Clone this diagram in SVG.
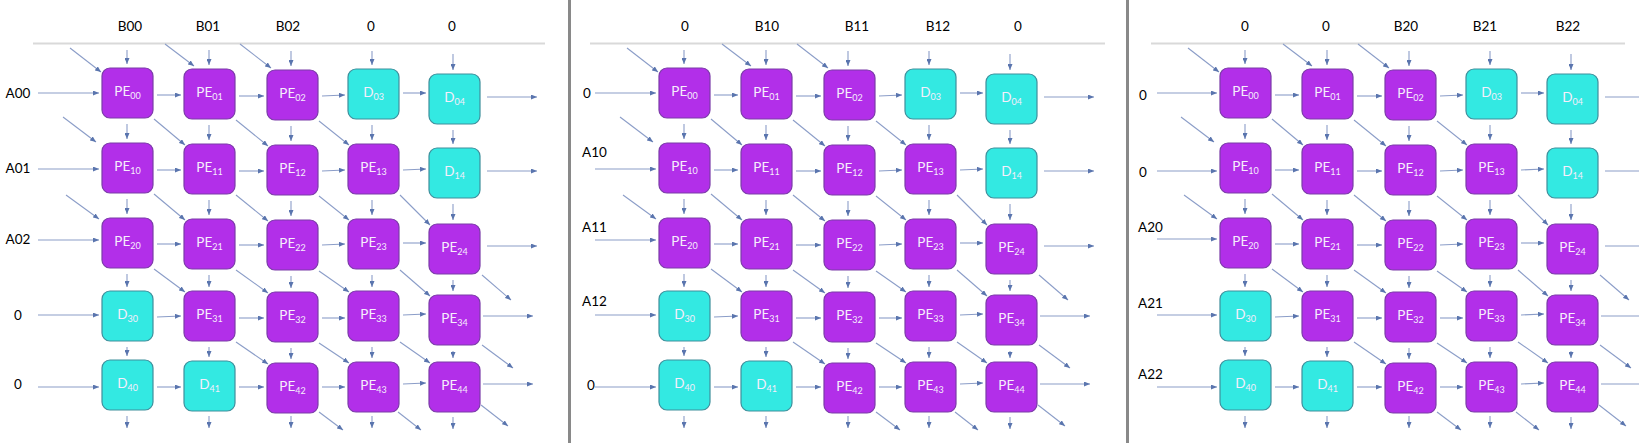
<svg xmlns="http://www.w3.org/2000/svg" width="1639" height="443" viewBox="0 0 1639 443">
<style>
.pe rect{fill:#b22fe9;stroke:#7b3ca8;stroke-width:1.2}
.d rect{fill:#33e9e2;stroke:#3f8f9c;stroke-width:1.2}
.pe text,.d text{font-family:Lato,"Open Sans",sans-serif;font-size:13.5px;fill:#f6eefc;text-anchor:middle}
.s{font-size:9px}
.lbl{font-family:Lato,"Liberation Sans",sans-serif;font-size:13.5px;fill:#000}
.m{text-anchor:middle}
.c line{stroke:#8b9dc8;stroke-width:1.1;marker-end:url(#ah)}
.rule{stroke:#d9d9d9;stroke-width:2}
</style>
<defs>
<marker id="ah" markerWidth="6" markerHeight="5" refX="6" refY="2.5" orient="auto" markerUnits="userSpaceOnUse"><path d="M0,0 L6,2.5 L0,5 z" fill="#5a75ae"/></marker>
</defs>
<rect width="1639" height="443" fill="#fff"/>
<rect x="568" y="0" width="3" height="443" fill="#898989"/>
<rect x="1126" y="0" width="3" height="443" fill="#898989"/>
<line class="rule" x1="33" y1="43.5" x2="545" y2="43.5"/>
<line class="rule" x1="590" y1="43.5" x2="1105" y2="43.5"/>
<line class="rule" x1="1151" y1="43.5" x2="1625" y2="43.5"/>
<g id="labels">
<text class="lbl m" x="130" y="31">B00</text>
<text class="lbl m" x="208" y="31">B01</text>
<text class="lbl m" x="288" y="31">B02</text>
<text class="lbl m" x="371" y="31">0</text>
<text class="lbl m" x="452" y="31">0</text>
<text class="lbl m" x="18" y="97.5">A00</text>
<text class="lbl m" x="18" y="172.5">A01</text>
<text class="lbl m" x="18" y="243.5">A02</text>
<text class="lbl m" x="18" y="319.5">0</text>
<text class="lbl m" x="18" y="388.5">0</text>
<text class="lbl m" x="685" y="31">0</text>
<text class="lbl m" x="767" y="31">B10</text>
<text class="lbl m" x="857" y="31">B11</text>
<text class="lbl m" x="938" y="31">B12</text>
<text class="lbl m" x="1018" y="31">0</text>
<text class="lbl m" x="587" y="97.5">0</text>
<text class="lbl" x="582" y="156.5">A10</text>
<text class="lbl" x="582" y="231.5">A11</text>
<text class="lbl" x="582" y="305.5">A12</text>
<text class="lbl m" x="591" y="389.5">0</text>
<text class="lbl m" x="1245" y="31">0</text>
<text class="lbl m" x="1326" y="31">0</text>
<text class="lbl m" x="1406" y="31">B20</text>
<text class="lbl m" x="1485" y="31">B21</text>
<text class="lbl m" x="1568" y="31">B22</text>
<text class="lbl m" x="1143" y="100">0</text>
<text class="lbl m" x="1143" y="177">0</text>
<text class="lbl" x="1138" y="232">A20</text>
<text class="lbl" x="1138" y="308">A21</text>
<text class="lbl" x="1138" y="379">A22</text>
</g>

<g id="panel1">
<g id="p1-connectors" class="c">
<line x1="127" y1="50" x2="127" y2="64"/><line x1="209" y1="50" x2="209" y2="65"/><line x1="291" y1="51" x2="291" y2="66"/><line x1="372" y1="51" x2="372" y2="65"/><line x1="453" y1="54" x2="453" y2="70"/>
<line x1="127" y1="124" x2="127" y2="139"/><line x1="127" y1="199" x2="127" y2="214"/><line x1="127" y1="274" x2="127" y2="287"/><line x1="127" y1="347" x2="127" y2="356"/>
<line x1="209" y1="125" x2="209" y2="140"/><line x1="209" y1="200" x2="209" y2="215"/><line x1="209" y1="275" x2="209" y2="287"/><line x1="209" y1="347" x2="209" y2="357"/>
<line x1="291" y1="126" x2="291" y2="141"/><line x1="291" y1="201" x2="291" y2="216"/><line x1="291" y1="276" x2="291" y2="288"/><line x1="291" y1="348" x2="291" y2="359"/>
<line x1="372" y1="125" x2="372" y2="140"/><line x1="372" y1="200" x2="372" y2="215"/><line x1="372" y1="275" x2="372" y2="287"/><line x1="372" y1="347" x2="372" y2="358"/>
<line x1="453" y1="130" x2="453" y2="144"/><line x1="453" y1="204" x2="453" y2="220"/><line x1="453" y1="280" x2="453" y2="291"/><line x1="453" y1="351" x2="453" y2="358"/>
<line x1="127" y1="416" x2="127" y2="428"/><line x1="209" y1="416" x2="209" y2="428"/><line x1="291" y1="416" x2="291" y2="428"/><line x1="372" y1="416" x2="372" y2="428"/><line x1="453" y1="417" x2="453" y2="429"/>
<line x1="38" y1="93" x2="99" y2="93"/><line x1="38" y1="169" x2="99" y2="169"/><line x1="38" y1="240" x2="99" y2="240"/><line x1="38" y1="315" x2="99" y2="315"/><line x1="38" y1="387" x2="99" y2="387"/>
<line x1="157" y1="95" x2="181" y2="95"/><line x1="239" y1="96" x2="264" y2="96"/><line x1="322" y1="96" x2="345" y2="95"/><line x1="403" y1="93" x2="426" y2="93"/>
<line x1="157" y1="170" x2="181" y2="170"/><line x1="239" y1="171" x2="264" y2="171"/><line x1="322" y1="171" x2="345" y2="170"/><line x1="403" y1="170" x2="426" y2="169"/>
<line x1="157" y1="244" x2="181" y2="244"/><line x1="239" y1="245" x2="264" y2="245"/><line x1="322" y1="245" x2="345" y2="244"/><line x1="403" y1="243" x2="426" y2="243"/>
<line x1="157" y1="317" x2="181" y2="316"/><line x1="239" y1="318" x2="264" y2="318"/><line x1="322" y1="318" x2="345" y2="318"/><line x1="403" y1="315" x2="426" y2="314"/>
<line x1="157" y1="387" x2="181" y2="387"/><line x1="239" y1="387" x2="264" y2="387"/><line x1="322" y1="387" x2="345" y2="387"/><line x1="403" y1="384" x2="426" y2="383"/>
<line x1="487" y1="97" x2="537" y2="97"/><line x1="487" y1="171" x2="537" y2="171"/><line x1="487" y1="246" x2="537" y2="246"/><line x1="483" y1="316" x2="533" y2="316"/><line x1="483" y1="384" x2="533" y2="384"/>
<line x1="70" y1="48" x2="101" y2="72"/><line x1="165" y1="44" x2="194" y2="66"/><line x1="240" y1="44" x2="271" y2="68"/><line x1="63" y1="117" x2="96" y2="142"/><line x1="66" y1="195" x2="99" y2="219"/>
<line x1="154" y1="119" x2="185" y2="145"/><line x1="236" y1="120" x2="268" y2="146"/><line x1="319" y1="121" x2="349" y2="145"/>
<line x1="154" y1="194" x2="185" y2="220"/><line x1="236" y1="195" x2="268" y2="221"/><line x1="319" y1="196" x2="349" y2="220"/><line x1="400" y1="195" x2="430" y2="225"/>
<line x1="154" y1="269" x2="185" y2="292"/><line x1="236" y1="270" x2="268" y2="293"/><line x1="319" y1="271" x2="349" y2="292"/><line x1="400" y1="270" x2="430" y2="296"/>
<line x1="236" y1="342" x2="268" y2="364"/><line x1="319" y1="343" x2="349" y2="363"/><line x1="400" y1="342" x2="430" y2="363"/>
<line x1="482" y1="275" x2="511" y2="300"/><line x1="482" y1="345" x2="513" y2="368"/><line x1="319" y1="412" x2="343" y2="430"/><line x1="398" y1="412" x2="421" y2="430"/><line x1="481" y1="405" x2="508" y2="426"/>
</g>
<g id="p1-nodes">
<g id="p1-PE00" class="pe"><rect x="102" y="68" width="51" height="50" rx="8"/><text x="127.5" y="96">PE<tspan class="s" dy="2.5">00</tspan></text></g>
<g id="p1-PE01" class="pe"><rect x="184" y="69" width="51" height="50" rx="8"/><text x="209.5" y="97">PE<tspan class="s" dy="2.5">01</tspan></text></g>
<g id="p1-PE02" class="pe"><rect x="267" y="70" width="51" height="50" rx="8"/><text x="292.5" y="98">PE<tspan class="s" dy="2.5">02</tspan></text></g>
<g id="p1-D03" class="d"><rect x="348" y="69" width="51" height="50" rx="8"/><text x="373.5" y="97">D<tspan class="s" dy="2.5">03</tspan></text></g>
<g id="p1-D04" class="d"><rect x="429" y="74" width="51" height="50" rx="8"/><text x="454.5" y="102">D<tspan class="s" dy="2.5">04</tspan></text></g>
<g id="p1-PE10" class="pe"><rect x="102" y="143" width="51" height="50" rx="8"/><text x="127.5" y="171">PE<tspan class="s" dy="2.5">10</tspan></text></g>
<g id="p1-PE11" class="pe"><rect x="184" y="144" width="51" height="50" rx="8"/><text x="209.5" y="172">PE<tspan class="s" dy="2.5">11</tspan></text></g>
<g id="p1-PE12" class="pe"><rect x="267" y="145" width="51" height="50" rx="8"/><text x="292.5" y="173">PE<tspan class="s" dy="2.5">12</tspan></text></g>
<g id="p1-PE13" class="pe"><rect x="348" y="144" width="51" height="50" rx="8"/><text x="373.5" y="172">PE<tspan class="s" dy="2.5">13</tspan></text></g>
<g id="p1-D14" class="d"><rect x="429" y="148" width="51" height="50" rx="8"/><text x="454.5" y="176">D<tspan class="s" dy="2.5">14</tspan></text></g>
<g id="p1-PE20" class="pe"><rect x="102" y="218" width="51" height="50" rx="8"/><text x="127.5" y="246">PE<tspan class="s" dy="2.5">20</tspan></text></g>
<g id="p1-PE21" class="pe"><rect x="184" y="219" width="51" height="50" rx="8"/><text x="209.5" y="247">PE<tspan class="s" dy="2.5">21</tspan></text></g>
<g id="p1-PE22" class="pe"><rect x="267" y="220" width="51" height="50" rx="8"/><text x="292.5" y="248">PE<tspan class="s" dy="2.5">22</tspan></text></g>
<g id="p1-PE23" class="pe"><rect x="348" y="219" width="51" height="50" rx="8"/><text x="373.5" y="247">PE<tspan class="s" dy="2.5">23</tspan></text></g>
<g id="p1-PE24" class="pe"><rect x="429" y="224" width="51" height="50" rx="8"/><text x="454.5" y="252">PE<tspan class="s" dy="2.5">24</tspan></text></g>
<g id="p1-D30" class="d"><rect x="102" y="291" width="51" height="50" rx="8"/><text x="127.5" y="319">D<tspan class="s" dy="2.5">30</tspan></text></g>
<g id="p1-PE31" class="pe"><rect x="184" y="291" width="51" height="50" rx="8"/><text x="209.5" y="319">PE<tspan class="s" dy="2.5">31</tspan></text></g>
<g id="p1-PE32" class="pe"><rect x="267" y="292" width="51" height="50" rx="8"/><text x="292.5" y="320">PE<tspan class="s" dy="2.5">32</tspan></text></g>
<g id="p1-PE33" class="pe"><rect x="348" y="291" width="51" height="50" rx="8"/><text x="373.5" y="319">PE<tspan class="s" dy="2.5">33</tspan></text></g>
<g id="p1-PE34" class="pe"><rect x="429" y="295" width="51" height="50" rx="8"/><text x="454.5" y="323">PE<tspan class="s" dy="2.5">34</tspan></text></g>
<g id="p1-D40" class="d"><rect x="102" y="360" width="51" height="50" rx="8"/><text x="127.5" y="388">D<tspan class="s" dy="2.5">40</tspan></text></g>
<g id="p1-D41" class="d"><rect x="184" y="361" width="51" height="50" rx="8"/><text x="209.5" y="389">D<tspan class="s" dy="2.5">41</tspan></text></g>
<g id="p1-PE42" class="pe"><rect x="267" y="363" width="51" height="50" rx="8"/><text x="292.5" y="391">PE<tspan class="s" dy="2.5">42</tspan></text></g>
<g id="p1-PE43" class="pe"><rect x="348" y="362" width="51" height="50" rx="8"/><text x="373.5" y="390">PE<tspan class="s" dy="2.5">43</tspan></text></g>
<g id="p1-PE44" class="pe"><rect x="429" y="362" width="51" height="50" rx="8"/><text x="454.5" y="390">PE<tspan class="s" dy="2.5">44</tspan></text></g>
</g>
</g>

<g id="panel2" transform="translate(557,0)">
<g id="p2-connectors" class="c">
<line x1="127" y1="50" x2="127" y2="64"/><line x1="209" y1="50" x2="209" y2="65"/><line x1="291" y1="51" x2="291" y2="66"/><line x1="372" y1="51" x2="372" y2="65"/><line x1="453" y1="54" x2="453" y2="70"/>
<line x1="127" y1="124" x2="127" y2="139"/><line x1="127" y1="199" x2="127" y2="214"/><line x1="127" y1="274" x2="127" y2="287"/><line x1="127" y1="347" x2="127" y2="356"/>
<line x1="209" y1="125" x2="209" y2="140"/><line x1="209" y1="200" x2="209" y2="215"/><line x1="209" y1="275" x2="209" y2="287"/><line x1="209" y1="347" x2="209" y2="357"/>
<line x1="291" y1="126" x2="291" y2="141"/><line x1="291" y1="201" x2="291" y2="216"/><line x1="291" y1="276" x2="291" y2="288"/><line x1="291" y1="348" x2="291" y2="359"/>
<line x1="372" y1="125" x2="372" y2="140"/><line x1="372" y1="200" x2="372" y2="215"/><line x1="372" y1="275" x2="372" y2="287"/><line x1="372" y1="347" x2="372" y2="358"/>
<line x1="453" y1="130" x2="453" y2="144"/><line x1="453" y1="204" x2="453" y2="220"/><line x1="453" y1="280" x2="453" y2="291"/><line x1="453" y1="351" x2="453" y2="358"/>
<line x1="127" y1="416" x2="127" y2="428"/><line x1="209" y1="416" x2="209" y2="428"/><line x1="291" y1="416" x2="291" y2="428"/><line x1="372" y1="416" x2="372" y2="428"/><line x1="453" y1="417" x2="453" y2="429"/>
<line x1="38" y1="93" x2="99" y2="93"/><line x1="38" y1="169" x2="99" y2="169"/><line x1="38" y1="240" x2="99" y2="240"/><line x1="38" y1="315" x2="99" y2="315"/><line x1="38" y1="387" x2="99" y2="387"/>
<line x1="157" y1="95" x2="181" y2="95"/><line x1="239" y1="96" x2="264" y2="96"/><line x1="322" y1="96" x2="345" y2="95"/><line x1="403" y1="93" x2="426" y2="93"/>
<line x1="157" y1="170" x2="181" y2="170"/><line x1="239" y1="171" x2="264" y2="171"/><line x1="322" y1="171" x2="345" y2="170"/><line x1="403" y1="170" x2="426" y2="169"/>
<line x1="157" y1="244" x2="181" y2="244"/><line x1="239" y1="245" x2="264" y2="245"/><line x1="322" y1="245" x2="345" y2="244"/><line x1="403" y1="243" x2="426" y2="243"/>
<line x1="157" y1="317" x2="181" y2="316"/><line x1="239" y1="318" x2="264" y2="318"/><line x1="322" y1="318" x2="345" y2="318"/><line x1="403" y1="315" x2="426" y2="314"/>
<line x1="157" y1="387" x2="181" y2="387"/><line x1="239" y1="387" x2="264" y2="387"/><line x1="322" y1="387" x2="345" y2="387"/><line x1="403" y1="384" x2="426" y2="383"/>
<line x1="487" y1="97" x2="537" y2="97"/><line x1="487" y1="171" x2="537" y2="171"/><line x1="487" y1="246" x2="537" y2="246"/><line x1="483" y1="316" x2="533" y2="316"/><line x1="483" y1="384" x2="533" y2="384"/>
<line x1="70" y1="48" x2="101" y2="72"/><line x1="165" y1="44" x2="194" y2="66"/><line x1="240" y1="44" x2="271" y2="68"/><line x1="63" y1="117" x2="96" y2="142"/><line x1="66" y1="195" x2="99" y2="219"/>
<line x1="154" y1="119" x2="185" y2="145"/><line x1="236" y1="120" x2="268" y2="146"/><line x1="319" y1="121" x2="349" y2="145"/>
<line x1="154" y1="194" x2="185" y2="220"/><line x1="236" y1="195" x2="268" y2="221"/><line x1="319" y1="196" x2="349" y2="220"/><line x1="400" y1="195" x2="430" y2="225"/>
<line x1="154" y1="269" x2="185" y2="292"/><line x1="236" y1="270" x2="268" y2="293"/><line x1="319" y1="271" x2="349" y2="292"/><line x1="400" y1="270" x2="430" y2="296"/>
<line x1="236" y1="342" x2="268" y2="364"/><line x1="319" y1="343" x2="349" y2="363"/><line x1="400" y1="342" x2="430" y2="363"/>
<line x1="482" y1="275" x2="511" y2="300"/><line x1="482" y1="345" x2="513" y2="368"/><line x1="319" y1="412" x2="343" y2="430"/><line x1="398" y1="412" x2="421" y2="430"/><line x1="481" y1="405" x2="508" y2="426"/>
</g>
<g id="p2-nodes">
<g id="p2-PE00" class="pe"><rect x="102" y="68" width="51" height="50" rx="8"/><text x="127.5" y="96">PE<tspan class="s" dy="2.5">00</tspan></text></g>
<g id="p2-PE01" class="pe"><rect x="184" y="69" width="51" height="50" rx="8"/><text x="209.5" y="97">PE<tspan class="s" dy="2.5">01</tspan></text></g>
<g id="p2-PE02" class="pe"><rect x="267" y="70" width="51" height="50" rx="8"/><text x="292.5" y="98">PE<tspan class="s" dy="2.5">02</tspan></text></g>
<g id="p2-D03" class="d"><rect x="348" y="69" width="51" height="50" rx="8"/><text x="373.5" y="97">D<tspan class="s" dy="2.5">03</tspan></text></g>
<g id="p2-D04" class="d"><rect x="429" y="74" width="51" height="50" rx="8"/><text x="454.5" y="102">D<tspan class="s" dy="2.5">04</tspan></text></g>
<g id="p2-PE10" class="pe"><rect x="102" y="143" width="51" height="50" rx="8"/><text x="127.5" y="171">PE<tspan class="s" dy="2.5">10</tspan></text></g>
<g id="p2-PE11" class="pe"><rect x="184" y="144" width="51" height="50" rx="8"/><text x="209.5" y="172">PE<tspan class="s" dy="2.5">11</tspan></text></g>
<g id="p2-PE12" class="pe"><rect x="267" y="145" width="51" height="50" rx="8"/><text x="292.5" y="173">PE<tspan class="s" dy="2.5">12</tspan></text></g>
<g id="p2-PE13" class="pe"><rect x="348" y="144" width="51" height="50" rx="8"/><text x="373.5" y="172">PE<tspan class="s" dy="2.5">13</tspan></text></g>
<g id="p2-D14" class="d"><rect x="429" y="148" width="51" height="50" rx="8"/><text x="454.5" y="176">D<tspan class="s" dy="2.5">14</tspan></text></g>
<g id="p2-PE20" class="pe"><rect x="102" y="218" width="51" height="50" rx="8"/><text x="127.5" y="246">PE<tspan class="s" dy="2.5">20</tspan></text></g>
<g id="p2-PE21" class="pe"><rect x="184" y="219" width="51" height="50" rx="8"/><text x="209.5" y="247">PE<tspan class="s" dy="2.5">21</tspan></text></g>
<g id="p2-PE22" class="pe"><rect x="267" y="220" width="51" height="50" rx="8"/><text x="292.5" y="248">PE<tspan class="s" dy="2.5">22</tspan></text></g>
<g id="p2-PE23" class="pe"><rect x="348" y="219" width="51" height="50" rx="8"/><text x="373.5" y="247">PE<tspan class="s" dy="2.5">23</tspan></text></g>
<g id="p2-PE24" class="pe"><rect x="429" y="224" width="51" height="50" rx="8"/><text x="454.5" y="252">PE<tspan class="s" dy="2.5">24</tspan></text></g>
<g id="p2-D30" class="d"><rect x="102" y="291" width="51" height="50" rx="8"/><text x="127.5" y="319">D<tspan class="s" dy="2.5">30</tspan></text></g>
<g id="p2-PE31" class="pe"><rect x="184" y="291" width="51" height="50" rx="8"/><text x="209.5" y="319">PE<tspan class="s" dy="2.5">31</tspan></text></g>
<g id="p2-PE32" class="pe"><rect x="267" y="292" width="51" height="50" rx="8"/><text x="292.5" y="320">PE<tspan class="s" dy="2.5">32</tspan></text></g>
<g id="p2-PE33" class="pe"><rect x="348" y="291" width="51" height="50" rx="8"/><text x="373.5" y="319">PE<tspan class="s" dy="2.5">33</tspan></text></g>
<g id="p2-PE34" class="pe"><rect x="429" y="295" width="51" height="50" rx="8"/><text x="454.5" y="323">PE<tspan class="s" dy="2.5">34</tspan></text></g>
<g id="p2-D40" class="d"><rect x="102" y="360" width="51" height="50" rx="8"/><text x="127.5" y="388">D<tspan class="s" dy="2.5">40</tspan></text></g>
<g id="p2-D41" class="d"><rect x="184" y="361" width="51" height="50" rx="8"/><text x="209.5" y="389">D<tspan class="s" dy="2.5">41</tspan></text></g>
<g id="p2-PE42" class="pe"><rect x="267" y="363" width="51" height="50" rx="8"/><text x="292.5" y="391">PE<tspan class="s" dy="2.5">42</tspan></text></g>
<g id="p2-PE43" class="pe"><rect x="348" y="362" width="51" height="50" rx="8"/><text x="373.5" y="390">PE<tspan class="s" dy="2.5">43</tspan></text></g>
<g id="p2-PE44" class="pe"><rect x="429" y="362" width="51" height="50" rx="8"/><text x="454.5" y="390">PE<tspan class="s" dy="2.5">44</tspan></text></g>
</g>
</g>

<g id="panel3" transform="translate(1118,0)">
<g id="p3-connectors" class="c">
<line x1="127" y1="50" x2="127" y2="64"/><line x1="209" y1="50" x2="209" y2="65"/><line x1="291" y1="51" x2="291" y2="66"/><line x1="372" y1="51" x2="372" y2="65"/><line x1="453" y1="54" x2="453" y2="70"/>
<line x1="127" y1="124" x2="127" y2="139"/><line x1="127" y1="199" x2="127" y2="214"/><line x1="127" y1="274" x2="127" y2="287"/><line x1="127" y1="347" x2="127" y2="356"/>
<line x1="209" y1="125" x2="209" y2="140"/><line x1="209" y1="200" x2="209" y2="215"/><line x1="209" y1="275" x2="209" y2="287"/><line x1="209" y1="347" x2="209" y2="357"/>
<line x1="291" y1="126" x2="291" y2="141"/><line x1="291" y1="201" x2="291" y2="216"/><line x1="291" y1="276" x2="291" y2="288"/><line x1="291" y1="348" x2="291" y2="359"/>
<line x1="372" y1="125" x2="372" y2="140"/><line x1="372" y1="200" x2="372" y2="215"/><line x1="372" y1="275" x2="372" y2="287"/><line x1="372" y1="347" x2="372" y2="358"/>
<line x1="453" y1="130" x2="453" y2="144"/><line x1="453" y1="204" x2="453" y2="220"/><line x1="453" y1="280" x2="453" y2="291"/><line x1="453" y1="351" x2="453" y2="358"/>
<line x1="127" y1="416" x2="127" y2="428"/><line x1="209" y1="416" x2="209" y2="428"/><line x1="291" y1="416" x2="291" y2="428"/><line x1="372" y1="416" x2="372" y2="428"/><line x1="453" y1="417" x2="453" y2="429"/>
<line x1="39" y1="93" x2="99" y2="93"/><line x1="39" y1="171" x2="99" y2="171"/><line x1="39" y1="239" x2="99" y2="239"/><line x1="39" y1="315" x2="99" y2="315"/><line x1="39" y1="387" x2="99" y2="387"/>
<line x1="157" y1="95" x2="181" y2="95"/><line x1="239" y1="96" x2="264" y2="96"/><line x1="322" y1="96" x2="345" y2="95"/><line x1="403" y1="93" x2="426" y2="93"/>
<line x1="157" y1="170" x2="181" y2="170"/><line x1="239" y1="171" x2="264" y2="171"/><line x1="322" y1="171" x2="345" y2="170"/><line x1="403" y1="170" x2="426" y2="169"/>
<line x1="157" y1="244" x2="181" y2="244"/><line x1="239" y1="245" x2="264" y2="245"/><line x1="322" y1="245" x2="345" y2="244"/><line x1="403" y1="243" x2="426" y2="243"/>
<line x1="157" y1="317" x2="181" y2="316"/><line x1="239" y1="318" x2="264" y2="318"/><line x1="322" y1="318" x2="345" y2="318"/><line x1="403" y1="315" x2="426" y2="314"/>
<line x1="157" y1="387" x2="181" y2="387"/><line x1="239" y1="387" x2="264" y2="387"/><line x1="322" y1="387" x2="345" y2="387"/><line x1="403" y1="384" x2="426" y2="383"/>
<line x1="487" y1="97" x2="537" y2="97"/><line x1="487" y1="171" x2="537" y2="171"/><line x1="487" y1="246" x2="537" y2="246"/><line x1="483" y1="316" x2="533" y2="316"/><line x1="483" y1="384" x2="533" y2="384"/>
<line x1="70" y1="48" x2="101" y2="72"/><line x1="165" y1="44" x2="194" y2="66"/><line x1="240" y1="44" x2="271" y2="68"/><line x1="63" y1="117" x2="96" y2="142"/><line x1="66" y1="195" x2="99" y2="219"/>
<line x1="154" y1="119" x2="185" y2="145"/><line x1="236" y1="120" x2="268" y2="146"/><line x1="319" y1="121" x2="349" y2="145"/>
<line x1="154" y1="194" x2="185" y2="220"/><line x1="236" y1="195" x2="268" y2="221"/><line x1="319" y1="196" x2="349" y2="220"/><line x1="400" y1="195" x2="430" y2="225"/>
<line x1="154" y1="269" x2="185" y2="292"/><line x1="236" y1="270" x2="268" y2="293"/><line x1="319" y1="271" x2="349" y2="292"/><line x1="400" y1="270" x2="430" y2="296"/>
<line x1="236" y1="342" x2="268" y2="364"/><line x1="319" y1="343" x2="349" y2="363"/><line x1="400" y1="342" x2="430" y2="363"/>
<line x1="482" y1="275" x2="511" y2="300"/><line x1="482" y1="345" x2="513" y2="368"/><line x1="319" y1="412" x2="343" y2="430"/><line x1="398" y1="412" x2="421" y2="430"/><line x1="481" y1="405" x2="508" y2="426"/>
</g>
<g id="p3-nodes">
<g id="p3-PE00" class="pe"><rect x="102" y="68" width="51" height="50" rx="8"/><text x="127.5" y="96">PE<tspan class="s" dy="2.5">00</tspan></text></g>
<g id="p3-PE01" class="pe"><rect x="184" y="69" width="51" height="50" rx="8"/><text x="209.5" y="97">PE<tspan class="s" dy="2.5">01</tspan></text></g>
<g id="p3-PE02" class="pe"><rect x="267" y="70" width="51" height="50" rx="8"/><text x="292.5" y="98">PE<tspan class="s" dy="2.5">02</tspan></text></g>
<g id="p3-D03" class="d"><rect x="348" y="69" width="51" height="50" rx="8"/><text x="373.5" y="97">D<tspan class="s" dy="2.5">03</tspan></text></g>
<g id="p3-D04" class="d"><rect x="429" y="74" width="51" height="50" rx="8"/><text x="454.5" y="102">D<tspan class="s" dy="2.5">04</tspan></text></g>
<g id="p3-PE10" class="pe"><rect x="102" y="143" width="51" height="50" rx="8"/><text x="127.5" y="171">PE<tspan class="s" dy="2.5">10</tspan></text></g>
<g id="p3-PE11" class="pe"><rect x="184" y="144" width="51" height="50" rx="8"/><text x="209.5" y="172">PE<tspan class="s" dy="2.5">11</tspan></text></g>
<g id="p3-PE12" class="pe"><rect x="267" y="145" width="51" height="50" rx="8"/><text x="292.5" y="173">PE<tspan class="s" dy="2.5">12</tspan></text></g>
<g id="p3-PE13" class="pe"><rect x="348" y="144" width="51" height="50" rx="8"/><text x="373.5" y="172">PE<tspan class="s" dy="2.5">13</tspan></text></g>
<g id="p3-D14" class="d"><rect x="429" y="148" width="51" height="50" rx="8"/><text x="454.5" y="176">D<tspan class="s" dy="2.5">14</tspan></text></g>
<g id="p3-PE20" class="pe"><rect x="102" y="218" width="51" height="50" rx="8"/><text x="127.5" y="246">PE<tspan class="s" dy="2.5">20</tspan></text></g>
<g id="p3-PE21" class="pe"><rect x="184" y="219" width="51" height="50" rx="8"/><text x="209.5" y="247">PE<tspan class="s" dy="2.5">21</tspan></text></g>
<g id="p3-PE22" class="pe"><rect x="267" y="220" width="51" height="50" rx="8"/><text x="292.5" y="248">PE<tspan class="s" dy="2.5">22</tspan></text></g>
<g id="p3-PE23" class="pe"><rect x="348" y="219" width="51" height="50" rx="8"/><text x="373.5" y="247">PE<tspan class="s" dy="2.5">23</tspan></text></g>
<g id="p3-PE24" class="pe"><rect x="429" y="224" width="51" height="50" rx="8"/><text x="454.5" y="252">PE<tspan class="s" dy="2.5">24</tspan></text></g>
<g id="p3-D30" class="d"><rect x="102" y="291" width="51" height="50" rx="8"/><text x="127.5" y="319">D<tspan class="s" dy="2.5">30</tspan></text></g>
<g id="p3-PE31" class="pe"><rect x="184" y="291" width="51" height="50" rx="8"/><text x="209.5" y="319">PE<tspan class="s" dy="2.5">31</tspan></text></g>
<g id="p3-PE32" class="pe"><rect x="267" y="292" width="51" height="50" rx="8"/><text x="292.5" y="320">PE<tspan class="s" dy="2.5">32</tspan></text></g>
<g id="p3-PE33" class="pe"><rect x="348" y="291" width="51" height="50" rx="8"/><text x="373.5" y="319">PE<tspan class="s" dy="2.5">33</tspan></text></g>
<g id="p3-PE34" class="pe"><rect x="429" y="295" width="51" height="50" rx="8"/><text x="454.5" y="323">PE<tspan class="s" dy="2.5">34</tspan></text></g>
<g id="p3-D40" class="d"><rect x="102" y="360" width="51" height="50" rx="8"/><text x="127.5" y="388">D<tspan class="s" dy="2.5">40</tspan></text></g>
<g id="p3-D41" class="d"><rect x="184" y="361" width="51" height="50" rx="8"/><text x="209.5" y="389">D<tspan class="s" dy="2.5">41</tspan></text></g>
<g id="p3-PE42" class="pe"><rect x="267" y="363" width="51" height="50" rx="8"/><text x="292.5" y="391">PE<tspan class="s" dy="2.5">42</tspan></text></g>
<g id="p3-PE43" class="pe"><rect x="348" y="362" width="51" height="50" rx="8"/><text x="373.5" y="390">PE<tspan class="s" dy="2.5">43</tspan></text></g>
<g id="p3-PE44" class="pe"><rect x="429" y="362" width="51" height="50" rx="8"/><text x="454.5" y="390">PE<tspan class="s" dy="2.5">44</tspan></text></g>
</g>
</g>
</svg>
